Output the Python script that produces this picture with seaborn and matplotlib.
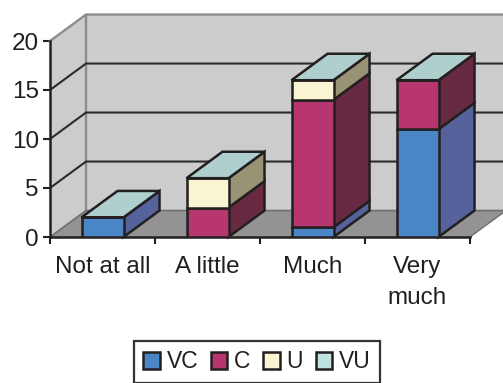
import matplotlib
matplotlib.use("Agg")
import matplotlib.pyplot as plt
from matplotlib.patches import Patch, Polygon
import numpy as np
import seaborn as sns

categories = ["Not at all", "A little", "Much", "Very\nmuch"]
series_names = ["VC", "C", "U", "VU"]
vc_values = [2, 0, 1, 11]
c_values = [0, 3, 13, 5]
u_values = [0, 3, 2, 0]
vu_values = [0, 0, 0, 0]
y_ticks = [0, 5, 10, 15, 20]

front_colors = ["#4a86c5", "#b73670", "#f9f4d2", "#bfe3e0"]
side_colors = ["#56629c", "#682a42", "#999375", "#7f9a98"]
top_color = "#aecfcd"
EDGE = "#231f20"
DEPTH_X, DEPTH_Y = 0.343, 2.7
BAR_WIDTH = 0.4
LINE = 1.8

sns.set_theme(style="white")
plt.rcParams["font.family"] = ["Liberation Sans", "DejaVu Sans"]

fig = plt.figure(figsize=(5.03, 3.83), dpi=100)
ax = fig.add_axes([50 / 503, (383 - 237) / 383, 420 / 503, 196 / 383])
ax.patch.set_alpha(0)

x_lo, x_hi = -0.5, len(categories) - 0.5
y_lo, y_hi = y_ticks[0], y_ticks[-1]


def face(points, color, edge, lw, z):
    ax.add_patch(Polygon(points, closed=True, facecolor=color, edgecolor=edge,
                         linewidth=lw, joinstyle="miter", clip_on=False, zorder=z))


# Chart box: floor, side wall and back wall behind the bars
face([(x_lo, y_lo), (x_hi, y_lo), (x_hi + DEPTH_X, y_lo + DEPTH_Y), (x_lo + DEPTH_X, y_lo + DEPTH_Y)],
     "#939393", "none", 0, 0.5)
face([(x_lo, y_lo), (x_lo + DEPTH_X, y_lo + DEPTH_Y), (x_lo + DEPTH_X, y_hi + DEPTH_Y), (x_lo, y_hi)],
     "#cccccc", "none", 0, 0.6)
face([(x_lo + DEPTH_X, y_lo + DEPTH_Y), (x_hi + DEPTH_X, y_lo + DEPTH_Y),
      (x_hi + DEPTH_X, y_hi + DEPTH_Y), (x_lo + DEPTH_X, y_hi + DEPTH_Y)],
     "#cccccc", "none", 0, 0.6)

wall_edge = dict(color="#8c8c8c", lw=1.7, clip_on=False, zorder=0.8, solid_capstyle="projecting")
ax.plot([x_lo, x_lo + DEPTH_X, x_hi + DEPTH_X], [y_hi, y_hi + DEPTH_Y, y_hi + DEPTH_Y], **wall_edge)
ax.plot([x_lo + DEPTH_X] * 2, [y_lo + DEPTH_Y, y_hi + DEPTH_Y], **wall_edge)
ax.plot([x_lo, x_lo + DEPTH_X, x_hi + DEPTH_X], [y_lo, y_lo + DEPTH_Y, y_lo + DEPTH_Y],
        color="#6f6f6f", lw=1.2, clip_on=False, zorder=0.8)
ax.plot([x_hi, x_hi + DEPTH_X], [y_lo, y_lo + DEPTH_Y], color="#6f6f6f", lw=1.0, clip_on=False, zorder=0.8)

# Gridlines wrap from the front axis along the side wall and across the back
for tick in y_ticks[1:-1]:
    ax.plot([x_lo, x_lo + DEPTH_X, x_hi + DEPTH_X], [tick, tick + DEPTH_Y, tick + DEPTH_Y],
            color="#2b2b2b", lw=1.5, clip_on=False, zorder=0.9, solid_joinstyle="miter")

# Stacked front faces
stack = np.array([vc_values, c_values, u_values, vu_values], dtype=float)
bottoms = np.vstack([np.zeros(len(categories)), np.cumsum(stack, axis=0)[:-1]])
for values, base, color in zip(stack, bottoms, front_colors):
    sns.barplot(x=categories, y=values, bottom=base, color=color, saturation=1, width=BAR_WIDTH,
                edgecolor=EDGE, linewidth=LINE, zorder=3, ax=ax)

# Side faces for each segment and a lid on each column
for i in range(len(categories)):
    right = i + BAR_WIDTH / 2
    left = i - BAR_WIDTH / 2
    for values, base, color in zip(stack, bottoms, side_colors):
        if values[i] > 0:
            lo, hi = base[i], base[i] + values[i]
            face([(right, lo), (right + DEPTH_X, lo + DEPTH_Y), (right + DEPTH_X, hi + DEPTH_Y), (right, hi)],
                 color, EDGE, LINE, 2)
    total = stack[:, i].sum()
    face([(left, total), (right, total), (right + DEPTH_X, total + DEPTH_Y), (left + DEPTH_X, total + DEPTH_Y)],
         top_color, EDGE, LINE, 2)

# Axes: ticks sit on the category boundaries, labels in between
ax.set_xlim(x_lo, x_hi)
ax.set_ylim(y_lo, y_hi)
ax.set_yticks(y_ticks)
ax.set_xticks(np.arange(len(categories)))
ax.set_xticklabels(categories, linespacing=1.55)
ax.set_xticks(np.arange(x_lo, x_hi + 1), minor=True)
ax.tick_params(axis="x", which="major", length=0, pad=13.5, labelsize=17.5, labelcolor="#231f20")
ax.tick_params(axis="x", which="minor", length=5, width=1.5, color=EDGE, bottom=True)
ax.tick_params(axis="y", length=5, width=1.5, color=EDGE, left=True, pad=3, labelsize=17.5, labelcolor="#231f20")
ax.set_xlabel("")
ax.set_ylabel("")
sns.despine(ax=ax, top=True, right=True)
for side in ("left", "bottom"):
    ax.spines[side].set_color(EDGE)
    ax.spines[side].set_linewidth(LINE)
    ax.spines[side].set_zorder(2.5)

handles = [Patch(facecolor=c, edgecolor=EDGE, linewidth=LINE, label=n) for c, n in zip(front_colors, series_names)]
legend = fig.legend(handles=handles, loc="center", bbox_to_anchor=(257 / 503, 1 - 362 / 383), ncol=4,
                    fontsize=16.5, frameon=True, fancybox=False, framealpha=1, edgecolor="#333333",
                    handlelength=0.72, handleheight=0.72, handletextpad=0.3, columnspacing=0.55,
                    borderpad=0.42, borderaxespad=0)
legend.get_frame().set_linewidth(1.6)
for text in legend.get_texts():
    text.set_color("#231f20")

fig.savefig("out.png", dpi=100)
